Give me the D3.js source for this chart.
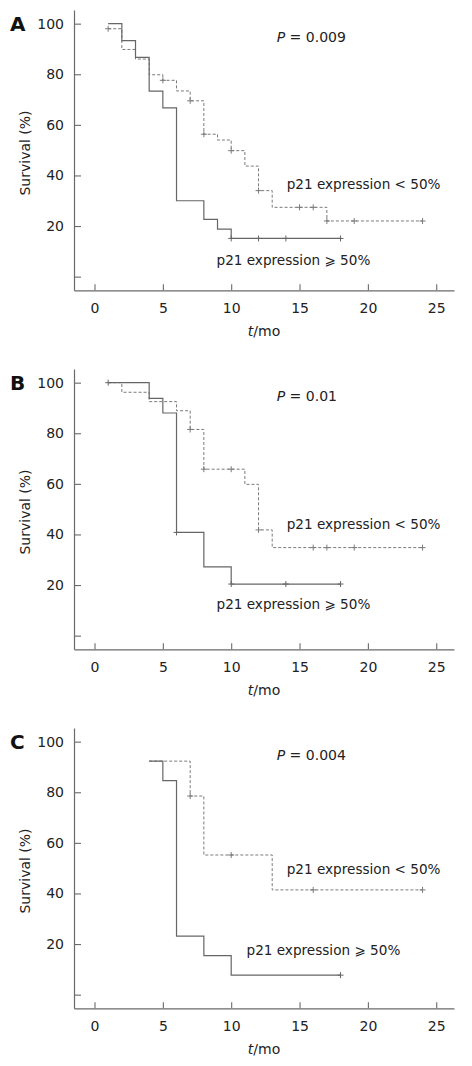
<!DOCTYPE html>
<html><head><meta charset="utf-8">
<script src="https://cdn.jsdelivr.net/npm/d3@7"></script>
<style>
html,body{margin:0;padding:0;background:#fff;}
svg{display:block;font-family:"DejaVu Sans",Verdana,sans-serif;}
</style></head>
<body>
<svg id="chart" width="472" height="1066"></svg>
<script>
// ---- data ----
const panelLetters = ["A", "B", "C"];
const pValues = ["0.009", "0.01", "0.004"];
const xTicks = [0, 5, 10, 15, 20, 25];
const yTicks = [0, 20, 40, 60, 80, 100];
const yTickLabels = ["", "20", "40", "60", "80", "100"];
const seriesNames = ["p21 expression < 50%", "p21 expression \u2A7E 50%"];

// Panel A
const aLowTimes = [1, 2, 3, 4, 5, 6, 7, 8, 9, 10, 11, 12, 13, 17, 24];
const aLowSurv  = [98, 89.8, 86, 79.8, 77.6, 73.4, 69.5, 56.3, 54, 49.8, 43.7, 34, 27.4, 22, 22];
const aLowCensor = [1, 5, 7, 8, 10, 12, 15, 16, 17, 19, 24];
const aHighTimes = [1, 2, 3, 4, 5, 6, 8, 9, 10, 18];
const aHighSurv  = [100, 93.3, 86.7, 73.3, 66.7, 30, 22.6, 18.8, 15.1, 15.1];
const aHighCensor = [10, 12, 14, 18];

// Panel B
const bLowTimes = [1, 2, 4, 6, 7, 8, 11, 12, 13, 24];
const bLowSurv  = [100, 96.2, 92.5, 88.9, 81.5, 65.8, 59.8, 41.8, 34.8, 34.8];
const bLowCensor = [7, 8, 10, 12, 16, 17, 19, 24];
const bHighTimes = [1, 4, 5, 6, 8, 10, 18];
const bHighSurv  = [100, 93.8, 88, 40.8, 27.2, 20.4, 20.4];
const bHighCensor = [1, 6, 10, 14, 18];

// Panel C
const cLowTimes = [4, 7, 8, 13, 24];
const cLowSurv  = [92.3, 78.5, 55.2, 41.4, 41.4];
const cLowCensor = [7, 10, 16, 24];
const cHighTimes = [4, 5, 6, 8, 10, 18];
const cHighSurv  = [92.3, 84.6, 23.1, 15.4, 7.7, 7.7];
const cHighCensor = [18];

// ---- layout (not data) ----
const panels = [
  {low: [aLowTimes, aLowSurv, aLowCensor], high: [aHighTimes, aHighSurv, aHighCensor],
   lowLab: [286.7, 188.5], highLab: [216.5, 265]},
  {low: [bLowTimes, bLowSurv, bLowCensor], high: [bHighTimes, bHighSurv, bHighCensor],
   lowLab: [286.7, 170.2], highLab: [216.5, 250.3]},
  {low: [cLowTimes, cLowSurv, cLowCensor], high: [cHighTimes, cHighSurv, cHighCensor],
   lowLab: [286.7, 155.5], highLab: [246.5, 237]}
];
const panelOffset = [0, 359, 718];

const svg = d3.select("#chart");
const x = d3.scaleLinear().domain([-1.5, 26.3]).range([74, 454]);
const y = d3.scaleLinear().domain([-5.4, 105.4]).range([290.3, 10]);

const axisColor = "#6a6a6a";
const textColor = "#222";
const fs = 14;

panels.forEach((p, i) => {
  const g = svg.append("g").attr("transform", `translate(0,${panelOffset[i]})`);

  // y axis
  const ya = g.append("g").attr("transform", `translate(${x.range()[0]},0)`)
    .call(d3.axisLeft(y).tickValues(yTicks).tickSize(-7).tickSizeOuter(0).tickPadding(10)
      .tickFormat((d, k) => yTickLabels[k]));
  // x axis
  const xa = g.append("g").attr("transform", `translate(0,${y.range()[0]})`)
    .call(d3.axisBottom(x).tickValues(xTicks).tickSize(-6).tickSizeOuter(0).tickPadding(13));
  [ya, xa].forEach(a => {
    a.select(".domain").attr("stroke", axisColor).attr("stroke-width", 1.2);
    a.selectAll(".tick line").attr("stroke", axisColor).attr("stroke-width", 1.1);
    a.selectAll("text").attr("fill", textColor).attr("font-size", fs)
      .attr("font-family", '"DejaVu Sans",Verdana,sans-serif');
  });

  // axis titles
  g.append("text").attr("transform", "translate(30,153) rotate(-90)")
    .attr("text-anchor", "middle").attr("font-size", fs).attr("fill", textColor)
    .text("Survival (%)");
  const xt = g.append("text").attr("x", 264).attr("y", 336)
    .attr("text-anchor", "middle").attr("font-size", fs).attr("fill", textColor);
  xt.append("tspan").attr("font-style", "italic").text("t");
  xt.append("tspan").text("/mo");

  // panel letter
  g.append("text").attr("x", 10).attr("y", 31).attr("font-size", 20)
    .attr("font-weight", "bold").attr("fill", "#111").text(panelLetters[i]);

  // P value
  const pt = g.append("text").attr("x", 276.7).attr("y", 41.7)
    .attr("font-size", fs).attr("fill", textColor);
  pt.append("tspan").attr("font-style", "italic").text("P");
  pt.append("tspan").text(" = " + pValues[i]);

  const line = d3.line().x(d => x(d[0])).y(d => y(d[1])).curve(d3.curveStepAfter);

  function drawSeries(s, dashed, color) {
    const [times, surv, cens] = s;
    const pts = times.map((t, k) => [t, surv[k]]);
    g.append("path").attr("d", line(pts)).attr("fill", "none")
      .attr("stroke", color).attr("stroke-width", dashed ? 1 : 1.2)
      .attr("stroke-dasharray", dashed ? "3,2" : null);
    const survAt = t => {
      let v = surv[0];
      times.forEach((tt, k) => { if (tt <= t) v = surv[k]; });
      return v;
    };
    cens.forEach(c => {
      const cx = x(c), cy = y(survAt(c));
      g.append("path").attr("d", `M${cx - 3},${cy}H${cx + 3}M${cx},${cy - 3}V${cy + 3}`)
        .attr("stroke", color).attr("stroke-width", 1).attr("fill", "none");
    });
  }
  drawSeries(p.low, true, "#7a7a7a");
  drawSeries(p.high, false, "#666");

  g.append("text").attr("x", p.lowLab[0]).attr("y", p.lowLab[1])
    .attr("font-size", 13.6).attr("fill", textColor).text(seriesNames[0]);
  g.append("text").attr("x", p.highLab[0]).attr("y", p.highLab[1])
    .attr("font-size", 13.6).attr("fill", textColor).text(seriesNames[1]);
});
</script>
</body></html>
